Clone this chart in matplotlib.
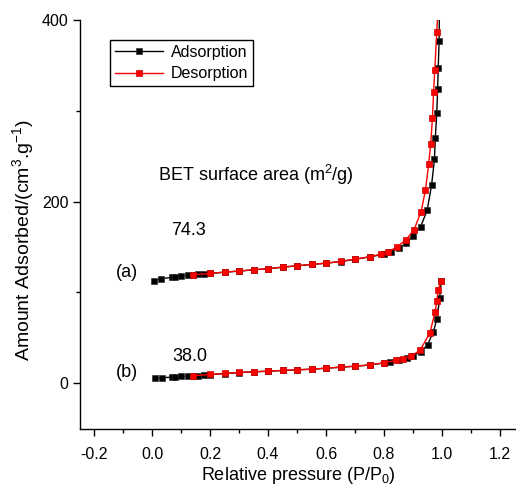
import matplotlib
matplotlib.use("Agg")
import matplotlib.pyplot as plt
from matplotlib.ticker import MultipleLocator

plt.rcParams['font.family'] = ['Liberation Sans', 'DejaVu Sans']
plt.rcParams['mathtext.fontset'] = 'custom'
plt.rcParams['mathtext.rm'] = 'Liberation Sans'
plt.rcParams['mathtext.it'] = 'Liberation Sans'

# (a) sample, adsorption branch
a_ads_x = [0.007, 0.031, 0.068, 0.08, 0.10, 0.124, 0.14, 0.16, 0.18, 0.20, 0.25, 0.30, 0.35,
           0.40, 0.45, 0.50, 0.55, 0.60, 0.65, 0.70, 0.75, 0.80, 0.823, 0.85, 0.876, 0.90,
           0.926, 0.949, 0.964, 0.974, 0.977, 0.982, 0.985, 0.987, 0.99, 0.993]
a_ads_y = [112.8, 115.0, 116.4, 116.8, 118.0, 118.6, 119.2, 120.0, 120.5, 120.8, 122.2, 123.4,
           124.8, 126.0, 127.7, 129.2, 130.7, 132.1, 133.9, 136.4, 139.0, 142.0, 144.9, 148.8,
           154.0, 162.0, 172.0, 190.6, 218.0, 246.4, 270.3, 298.0, 324.3, 347.4, 377.0, 460.0]
# (a) sample, desorption branch
a_des_x = [0.993, 0.982, 0.975, 0.971, 0.967, 0.961, 0.954, 0.943, 0.928, 0.903, 0.875, 0.845,
           0.815, 0.789, 0.75, 0.70, 0.65, 0.60, 0.553, 0.50, 0.45, 0.40, 0.35, 0.30, 0.25,
           0.20, 0.14]
a_des_y = [460.0, 386.6, 344.8, 320.6, 291.7, 263.0, 241.0, 212.7, 188.8, 168.6, 157.6, 150.0,
           144.7, 142.0, 139.2, 136.6, 134.0, 132.2, 130.8, 129.3, 127.8, 126.0, 124.9, 123.4,
           122.3, 120.8, 119.4]
# (b) sample, adsorption branch
b_ads_x = [0.01, 0.034, 0.069, 0.079, 0.10, 0.124, 0.14, 0.16, 0.18, 0.20, 0.25, 0.30, 0.35,
           0.40, 0.45, 0.50, 0.55, 0.60, 0.65, 0.70, 0.75, 0.80, 0.82, 0.85, 0.88, 0.90, 0.926,
           0.95, 0.97, 0.983, 0.992, 0.997]
b_ads_y = [5.1, 5.9, 6.6, 6.9, 7.3, 7.7, 8.0, 8.1, 8.4, 9.3, 10.5, 11.6, 12.4, 13.1, 13.9, 14.6,
           15.3, 16.4, 17.5, 18.6, 19.9, 22.2, 23.5, 25.0, 27.5, 30.0, 34.5, 42.0, 56.5, 71.0,
           94.0, 112.0]
# (b) sample, desorption branch
b_des_x = [0.997, 0.987, 0.982, 0.976, 0.958, 0.924, 0.893, 0.866, 0.84, 0.80, 0.75, 0.70,
           0.65, 0.60, 0.553, 0.50, 0.45, 0.40, 0.35, 0.30, 0.25, 0.20, 0.14]
b_des_y = [112.0, 103.0, 90.0, 78.0, 55.0, 36.0, 29.8, 26.8, 25.0, 22.4, 20.0, 18.7, 17.6, 16.5,
           15.4, 14.7, 14.0, 13.2, 12.5, 11.7, 10.6, 9.5, 8.0]

labels = ["Adsorption", "Desorption"]
x_ticks = [-0.2, 0.0, 0.2, 0.4, 0.6, 0.8, 1.0, 1.2]
y_ticks = [0, 200, 400]

fig = plt.figure(figsize=(5.16, 4.91), dpi=100)
ax = fig.add_axes([79.5 / 516, (491 - 428.5) / 491, 435 / 516, 408.5 / 491])

mk = dict(marker='s', markersize=4.5, linewidth=1.0, markeredgewidth=0.5)
la, = ax.plot(a_ads_x, a_ads_y, color='black', markeredgecolor='#333333', label=labels[0], **mk)
ax.plot(b_ads_x, b_ads_y, color='black', markeredgecolor='#333333', **mk)
ld, = ax.plot(a_des_x, a_des_y, color='red', markeredgecolor='#cc0000', label=labels[1], **mk)
ax.plot(b_des_x, b_des_y, color='red', markeredgecolor='#cc0000', **mk)

ax.set_xlim(-0.25, 1.25)
ax.set_ylim(-50, 400)
ax.set_xticks(x_ticks)
ax.set_xticklabels(["%.1f" % v for v in x_ticks])
ax.set_yticks(y_ticks)
ax.xaxis.set_minor_locator(MultipleLocator(0.1))
ax.yaxis.set_minor_locator(MultipleLocator(100))
ax.spines['top'].set_visible(False)
ax.spines['right'].set_visible(False)
for s in ('left', 'bottom'):
    ax.spines[s].set_linewidth(1.0)
ax.tick_params(axis='both', which='major', direction='out', length=5, width=1.0, labelsize=11.5)
ax.tick_params(axis='both', which='minor', direction='out', length=3, width=1.0)
ax.tick_params(axis='x', which='major', pad=8)
ax.tick_params(axis='y', which='major', pad=3)

ax.set_xlabel("Relative pressure (P/P$_0$)", fontsize=13)
ax.set_ylabel("Amount Adsorbed/(cm$^3$.g$^{-1}$)", fontsize=14)
ax.xaxis.set_label_coords(0.502, -0.089)
ax.yaxis.set_label_coords(-0.10, 0.461)

ax.text(0.02, 229, "BET surface area (m$^2$/g)", fontsize=13, va='center', ha='left')
ax.text(0.066, 168, "74.3", fontsize=13, va='center', ha='left')
ax.text(-0.124, 122, "(a)", fontsize=13, va='center', ha='left')
ax.text(0.069, 29, "38.0", fontsize=13, va='center', ha='left')
ax.text(-0.124, 12, "(b)", fontsize=13, va='center', ha='left')

leg = fig.legend(handles=[la, ld], labels=labels, loc='upper left',
                 bbox_to_anchor=(110 / 516, 1 - 40 / 491), fontsize=11.5,
                 frameon=True, fancybox=False, framealpha=1, edgecolor='black',
                 handlelength=3.0, borderpad=0.3, labelspacing=0.4, handletextpad=0.5,
                 borderaxespad=0)
leg.get_frame().set_linewidth(1.0)

fig.savefig("out.png", dpi=100)
